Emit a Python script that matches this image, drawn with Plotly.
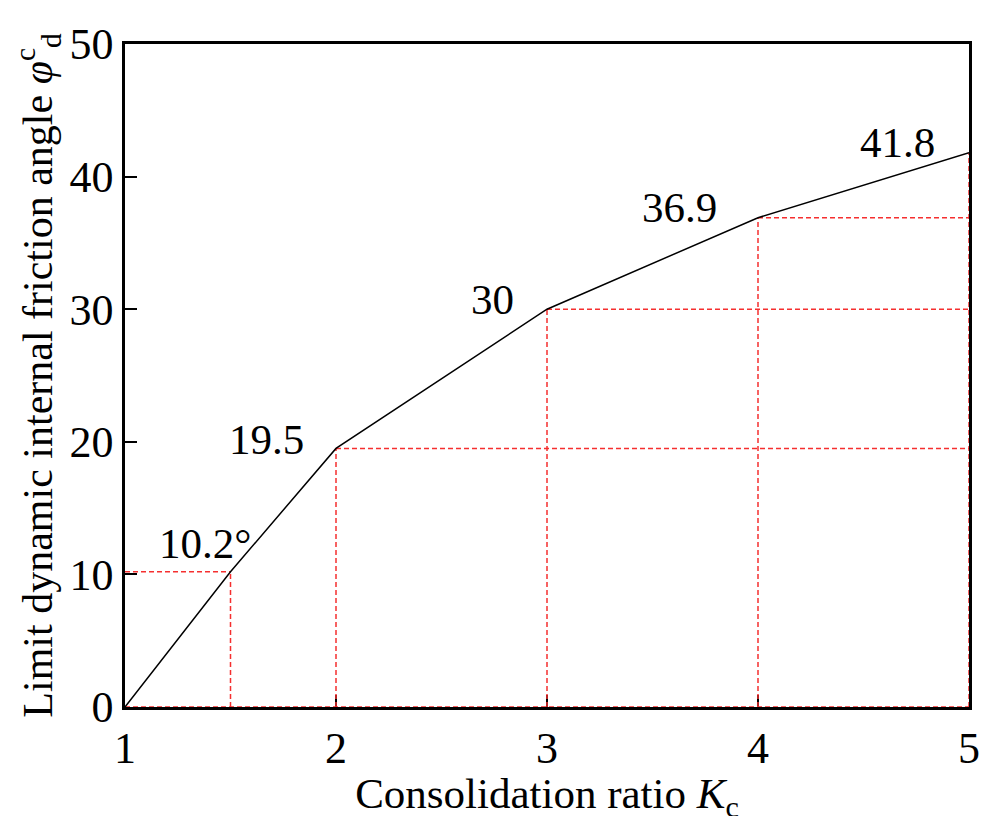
import plotly.graph_objects as go

# Data
kc = [1, 1.5, 2, 3, 4, 5]
phi = [0, 10.2, 19.5, 30, 36.9, 41.8]
labels = ["", "10.2°", "19.5", "30", "36.9", "41.8"]
label_x = [None, 1.38, 1.67, 2.74, 3.63, 4.66]
label_y = [None, 12.3, 20.2, 30.7, 37.7, 42.6]
guide_to_left = [False, True, False, False, False, False]

x_ticks = [1, 2, 3, 4, 5]
y_ticks = [0, 10, 20, 30, 40, 50]

FONT = "Liberation Serif"
RED = "#f52f2f"

fig = go.Figure()

# red dashed guide lines
gx, gy = [], []
for i in range(1, len(kc)):
    gx += [kc[i], kc[i], None]
    gy += [0, phi[i], None]
    if guide_to_left[i]:
        gx += [kc[0], kc[i], None]
    else:
        gx += [kc[i], kc[-1], None]
    gy += [phi[i], phi[i], None]
gx += [kc[0], kc[-1], None]
gy += [0, 0, None]

fig.add_trace(go.Scatter(x=gx, y=gy, mode="lines",
                         line=dict(color=RED, width=1.5, dash="5px,3px"),
                         cliponaxis=False, hoverinfo="skip", showlegend=False))

fig.add_trace(go.Scatter(x=kc, y=phi, mode="lines",
                         line=dict(color="black", width=1.5),
                         cliponaxis=False, showlegend=False))

for i in range(1, len(kc)):
    fig.add_annotation(x=label_x[i], y=label_y[i], text=labels[i], showarrow=False,
                       font=dict(family=FONT, size=43, color="black"),
                       xanchor="center", yanchor="middle")

fig.update_layout(
    width=990, height=816,
    margin=dict(l=117, r=29, t=20, b=117),
    paper_bgcolor="white", plot_bgcolor="white",
    font=dict(family=FONT, size=43, color="black"),
)
fig.update_xaxes(range=[1, 5], tickvals=x_ticks, ticks="inside", ticklen=12, tickwidth=2,
                 tickcolor="black", showline=True, linecolor="black", linewidth=2.5,
                 mirror=True, showgrid=False, zeroline=False, layer="below traces",
                 tickfont=dict(family=FONT, size=44), ticklabeloverflow="allow",
                 title=dict(text="Consolidation ratio <i>K</i><sub>c</sub>",
                            font=dict(family=FONT, size=43), standoff=0))
fig.update_yaxes(range=[0, 50], tickvals=y_ticks, ticks="inside", ticklen=12, tickwidth=2,
                 tickcolor="black", showline=True, linecolor="black", linewidth=2.5,
                 mirror=True, showgrid=False, zeroline=False, layer="below traces",
                 tickfont=dict(family=FONT, size=44), ticklabeloverflow="allow",
                 title=dict(text="Limit dynamic internal friction angle <i>φ</i><sup>c</sup><sub>d</sub>",
                            font=dict(family=FONT, size=42), standoff=4))

fig.write_html("out.html")
